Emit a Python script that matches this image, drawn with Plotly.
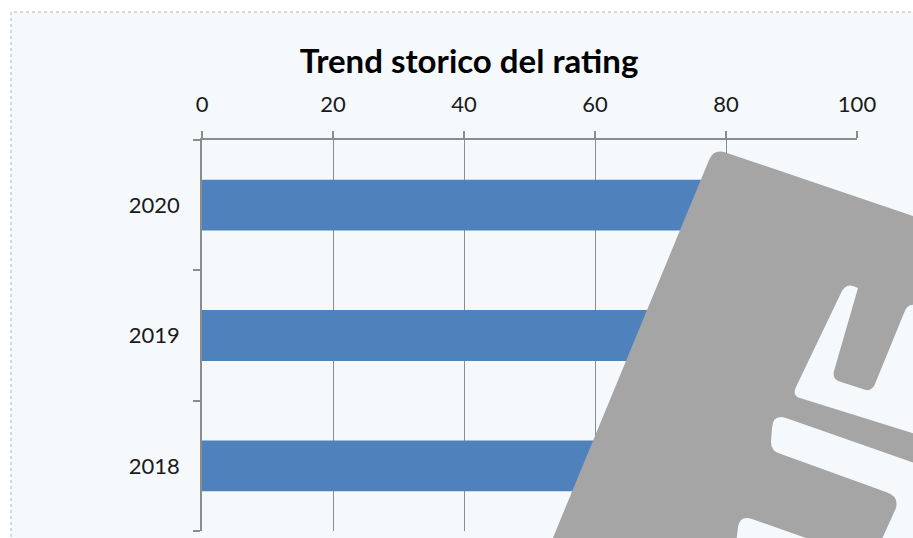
import plotly.graph_objects as go

# ---- data ----
years = ["2018", "2019", "2020"]
ratings = [80, 83, 86]          # bar ends are hidden under the logo; estimated
x_ticks = [0, 20, 40, 60, 80, 100]
title_text = "Trend storico del rating"

W, H = 913, 538
L_M, R_M, T_M, B_M = 202, 56, 140, 7
PW, PH = W - L_M - R_M, H - T_M - B_M


def P(x, y):
    return f"{(x - L_M) / PW:.5f},{(H - B_M - y) / PH:.5f}"


def path(cmds):
    out = []
    for c in cmds:
        if c[0] == "Z":
            out.append("Z")
        elif c[0] == "Q":
            out.append(f"Q{P(c[1], c[2])} {P(c[3], c[4])}")
        else:
            out.append(f"{c[0]}{P(c[1], c[2])}")
    return " ".join(out)


outer = [
    ("M", 709, 160), ("Q", 714, 148, 727, 153), ("L", 960, 232), ("L", 960, 479),
    ("L", 786, 418), ("Q", 773, 414, 772, 428), ("L", 771, 442), ("Q", 771, 452, 781, 454),
    ("L", 886, 492), ("Q", 899, 496, 896, 508), ("L", 877, 550), ("Q", 872, 560, 860, 557),
    ("L", 752, 519), ("Q", 740, 515, 738, 527), ("L", 736, 545), ("L", 735, 620),
    ("L", 519, 620), ("Z",),
]
hole = [
    ("M", 841, 293), ("Q", 846, 281, 858, 288), ("L", 834, 371), ("Q", 832, 380, 841, 382),
    ("L", 866, 390), ("Q", 872, 391, 875, 384), ("L", 904, 313), ("Q", 907, 303, 916, 305),
    ("L", 935, 311), ("L", 935, 440), ("L", 800, 398), ("Q", 792, 396, 796, 387),
    ("Z",),
]

fig = go.Figure()
fig.add_trace(go.Bar(
    x=ratings, y=years, orientation="h", width=0.39,
    marker=dict(color="#4f81bd", line=dict(width=0)),
    hoverinfo="skip",
))

shapes = [
    dict(type="rect", xref="paper", yref="paper",
         x0=(11 - L_M) / PW, x1=(940 - L_M) / PW,
         y0=(H - B_M - 560) / PH, y1=(H - B_M - 12) / PH,
         fillcolor="#f5f9fc", line=dict(color="#b4b4b4", width=1, dash="dot"),
         layer="below"),
    dict(type="path", xref="paper", yref="paper",
         path=path(outer) + " " + path(hole),
         fillcolor="#a5a5a5", line=dict(width=0), layer="above"),
]

fig.update_layout(
    width=W, height=H, autosize=False,
    margin=dict(l=L_M, r=R_M, t=T_M, b=B_M, pad=0),
    paper_bgcolor="#ffffff", plot_bgcolor="rgba(0,0,0,0)",
    showlegend=False,
    shapes=shapes,
    title=dict(text=f"<b>{title_text}</b>", x=469 / W, xref="container", xanchor="center",
               y=1 - 61 / H, yref="container", yanchor="middle",
               font=dict(family="Lato", size=33, color="#000000")),
    font=dict(family="Lato", color="#000000"),
    bargap=0.61,
)
fig.update_xaxes(
    range=[0, 100], side="top", tickvals=x_ticks, ticktext=[str(t) for t in x_ticks],
    showline=True, linecolor="#8c8c8c", linewidth=1.5,
    ticks="outside", ticklen=7, tickcolor="#8c8c8c", tickwidth=1.5,
    showgrid=True, gridcolor="#8c8c8c", gridwidth=1, zeroline=False,
    tickfont=dict(family="Lato", size=22, color="#1a1a1a"), ticklabelstandoff=10,
    fixedrange=True,
)
fig.update_yaxes(
    type="category", categoryorder="array", categoryarray=years, range=[-0.5, 2.5],
    showline=True, linecolor="#8c8c8c", linewidth=1.5,
    ticks="outside", ticklen=7, tickcolor="#8c8c8c", tickwidth=1.5, tickson="boundaries",
    showgrid=False, zeroline=False,
    tickfont=dict(family="Lato", size=22, color="#1a1a1a"), ticklabelstandoff=16,
    fixedrange=True,
)

fig.write_html("out.html", config={"displayModeBar": False})
